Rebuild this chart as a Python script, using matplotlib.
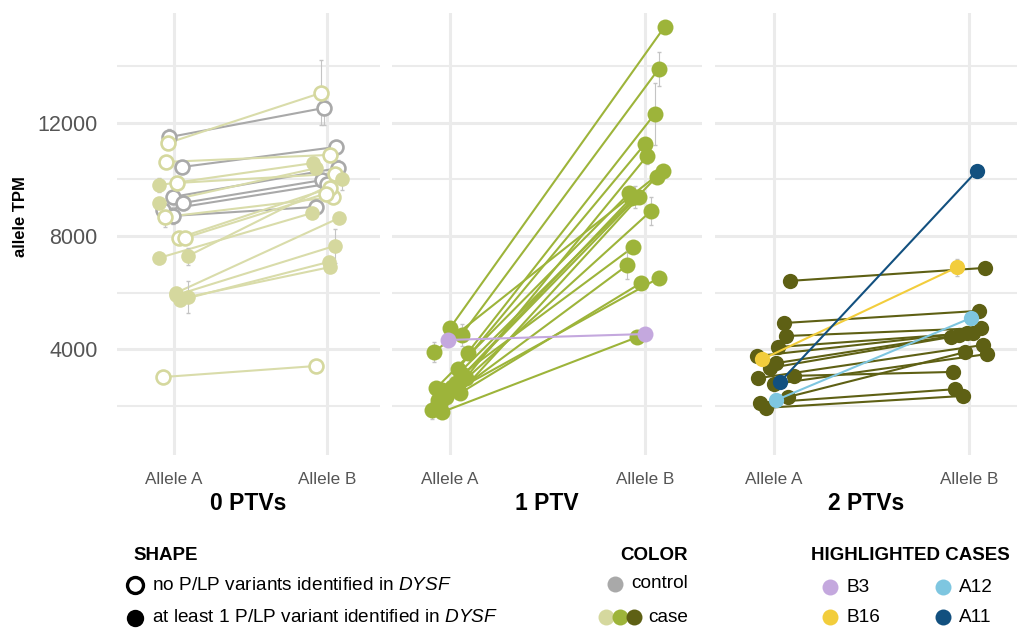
import matplotlib
matplotlib.use("Agg")
import matplotlib.pyplot as plt

plt.rcParams['font.family'] = ['Liberation Sans', 'DejaVu Sans']
plt.rcParams['mathtext.fontset'] = 'custom'
plt.rcParams['mathtext.rm'] = 'Liberation Sans'
plt.rcParams['mathtext.it'] = 'Liberation Sans:italic'

# colours
C_CTRL = '#a9a9a9'
C_LIGHT = '#d5d89e'
C_MID = '#9db43a'
C_DARK = '#5e6014'
C_B3 = '#c4a8de'
C_B16 = '#f2cd3c'
C_A12 = '#7ec6e0'
C_A11 = '#12507f'
COLORS = {'control': C_CTRL, 'light': C_LIGHT, 'mid': C_MID, 'dark': C_DARK,
          'B3': C_B3, 'B16': C_B16, 'A12': C_A12, 'A11': C_A11}
HIGHLIGHT = ('B3', 'B16', 'A12', 'A11')

panel_titles = ['0 PTVs', '1 PTV', '2 PTVs']
allele_labels = ['Allele A', 'Allele B']
y_ticks = [4000, 8000, 12000]

# ---- 0 PTVs ----
p0_group = ['control'] * 6 + ['light'] * 15
p0_filled = [0, 0, 0, 0, 0, 0,
             0, 0, 0, 0, 0, 0, 0,
             1, 1, 1, 1, 1, 1, 1, 1]
p0_a = [11500, 10440, 9380, 9170, 8920, 8710,
        11290, 10620, 9876, 8670, 7930, 7930, 3010,
        9800, 9170, 7220, 7290, 5980, 5730, 5840, 5900]
p0_b = [12530, 11150, 10400, 9980, 9840, 9030,
        13060, 10870, 10200, 9380, 9700, 9500, 3400,
        10580, 10400, 8810, 10020, 8640, 7080, 6900, 7650]
p0_ja = [-0.03, 0.05, -0.01, 0.06, -0.07, -0.01,
         -0.04, -0.05, 0.02, -0.06, 0.03, 0.07, -0.07,
         -0.10, -0.10, -0.10, 0.09, 0.01, 0.04, 0.09, 0.01]
p0_jb = [-0.02, 0.06, 0.07, -0.03, 0.00, -0.07,
         -0.04, 0.02, 0.05, 0.04, 0.02, -0.01, -0.07,
         -0.09, -0.07, -0.10, 0.10, 0.08, 0.01, 0.02, 0.05]
p0_ea = [300, 0, 0, 250, 0, 300, 0, 0, 0, 350, 0, 0, 0, 250, 0, 200, 300, 0, 0, 550, 0]
p0_eb = [600, 0, 300, 0, 0, 0, 1150, 0, 0, 0, 0, 0, 0, 0, 0, 0, 400, 0, 0, 0, 600]

# ---- 1 PTV ----
p1_group = ['mid'] * 17 + ['B3']
p1_filled = [1] * 18
p1_a = [4740, 4500, 3860, 3290, 2970, 3900, 2650, 2620, 2550, 2440,
        2800, 2300, 3100, 2050, 2190, 1840, 1770, 4320]
p1_b = [15400, 13910, 12320, 11260, 10830, 10300, 10090, 9520, 9380, 9380,
        9350, 8880, 7610, 6970, 6510, 6340, 4420, 4530]
p1_ja = [0.00, 0.06, 0.09, 0.04, 0.08, -0.08, 0.01, -0.07, -0.04, 0.05,
         0.03, -0.02, 0.06, -0.05, -0.06, -0.09, -0.04, -0.01]
p1_jb = [0.10, 0.07, 0.05, 0.00, 0.01, 0.09, 0.06, -0.08, -0.05, -0.03,
         -0.07, 0.03, -0.06, -0.09, 0.07, -0.02, -0.04, 0.00]
p1_ea = [0, 400, 0, 0, 0, 350, 0, 0, 0, 0, 0, 0, 0, 0, 0, 300, 0, 0]
p1_eb = [0, 600, 1100, 0, 300, 0, 0, 0, 400, 0, 0, 500, 0, 500, 0, 0, 0, 0]

# ---- 2 PTVs ----
p2_group = ['dark'] * 13 + ['B16', 'A12', 'A11']
p2_filled = [1] * 16
p2_a = [6410, 4920, 4460, 4070, 3750, 3500, 3330, 3050, 2970, 2760,
        2300, 2090, 1920, 3640, 2190, 2830]
p2_b = [6870, 5350, 4740, 4570, 4570, 4500, 4430, 3190, 4140, 3820,
        3890, 2580, 2340, 6900, 5100, 10300]
p2_ja = [0.08, 0.05, 0.06, 0.02, -0.09, 0.01, -0.02, 0.10, -0.08, 0.00,
         0.07, -0.07, -0.04, -0.06, 0.01, 0.03]
p2_jb = [0.08, 0.05, 0.06, 0.02, -0.01, -0.05, -0.09, -0.08, 0.07, 0.09,
         -0.02, -0.07, -0.03, -0.06, 0.01, 0.04]
p2_ea = [0] * 13 + [200, 0, 0]
p2_eb = [0] * 13 + [300, 0, 0]

panels = [
    (p0_group, p0_filled, p0_a, p0_b, p0_ja, p0_jb, p0_ea, p0_eb),
    (p1_group, p1_filled, p1_a, p1_b, p1_ja, p1_jb, p1_ea, p1_eb),
    (p2_group, p2_filled, p2_a, p2_b, p2_ja, p2_jb, p2_ea, p2_eb),
]

W, H = 1017, 629
fig = plt.figure(figsize=(W / 100, H / 100), dpi=100)


def px(x, y):
    return x / W, 1 - y / H


# axes boxes in pixels: left, right, xlim, marker size
boxes = [(117, 380, (0.627, 2.346), 10.5),
         (392, 702, (0.703, 2.292), 11.5),
         (715, 1017, (0.697, 2.246), 11)]
top, bottom = 13, 455
grid_c = '#ebebeb'

for i, (box, data) in enumerate(zip(boxes, panels)):
    left, right, xlim, ms = box
    ax = fig.add_axes([left / W, 1 - bottom / H, (right - left) / W, (bottom - top) / H])
    group, filled, a, b, ja, jb, ea, eb = data
    ax.set_xlim(*xlim)
    ax.set_ylim(250, 15890)
    for s in ax.spines.values():
        s.set_visible(False)
    for y in [4000, 8000, 12000]:
        ax.axhline(y, color=grid_c, lw=2.2, zorder=0)
    for y in [2000, 6000, 10000, 14000]:
        ax.axhline(y, color=grid_c, lw=1.5, zorder=0)
    for x in [1, 2]:
        ax.axvline(x, color=grid_c, lw=2.2, zorder=0)

    # non-highlighted first, highlights on top
    order = sorted(range(len(a)), key=lambda k: group[k] in HIGHLIGHT)
    for k in order:
        c = COLORS[group[k]]
        xa, xb = 1 + ja[k], 2 + jb[k]
        z = 3 if group[k] in HIGHLIGHT else 2
        line_c = '#d9dcaa' if group[k] == 'light' else c
        ax.plot([xa, xb], [a[k], b[k]], color=line_c, lw=1.5, zorder=z)
        if ea[k]:
            ax.errorbar(xa, a[k], yerr=ea[k], color='#c4c4c4', lw=0.8, capsize=1.5, zorder=z)
        if eb[k]:
            ax.errorbar(xb, b[k], yerr=eb[k], color='#c4c4c4', lw=0.8, capsize=1.5, zorder=z)
        if filled[k]:
            ax.plot([xa, xb], [a[k], b[k]], 'o', ms=ms, color=c, mew=0, zorder=z + 0.5, ls='none')
        else:
            ax.plot([xa, xb], [a[k], b[k]], 'o', ms=ms - 0.5, mfc='white', mec=c, mew=1.9,
                    zorder=z + 0.5, ls='none')

    ax.set_xticks([1, 2])
    ax.set_xticklabels(allele_labels, fontsize=12.3, color='#555555')
    ax.tick_params(axis='both', length=0, pad=12)
    if i == 0:
        ax.set_yticks(y_ticks)
        ax.set_yticklabels([str(v) for v in y_ticks], fontsize=15.5, color='#555555')
        ax.tick_params(axis='y', pad=14)
    else:
        ax.set_yticks([])
    ax.set_xlabel(panel_titles[i], fontsize=16.5, fontweight='bold', labelpad=4)

fig.text(*px(21, 217), 'allele TPM', rotation=90, fontsize=12, fontweight='bold',
         ha='center', va='center')

# ---- legend ----
hdr = dict(fontsize=13.5, fontweight='bold', va='center')
txt = dict(fontsize=13.7, va='center')
fig.text(*px(133, 555), 'SHAPE', ha='left', **hdr)
fig.text(*px(688, 555), 'COLOR', ha='right', **hdr)
fig.text(*px(1010, 555), 'HIGHLIGHTED CASES', ha='right', **hdr)

lax = fig.add_axes([0, 0, 1, 1], facecolor='none')
lax.set_xlim(0, W)
lax.set_ylim(H, 0)
lax.axis('off')
lax.plot([135], [585], 'o', ms=11.5, mfc='white', mec='black', mew=2.4)
lax.plot([135], [618], 'o', ms=12.5, color='black', mew=0)
fig.text(*px(152, 585), r'no P/LP variants identified in $\it{DYSF}$', ha='left', **txt)
fig.text(*px(152, 618), r'at least 1 P/LP variant identified in $\it{DYSF}$', ha='left', **txt)

lax.plot([615], [584], 'o', ms=11.5, color=C_CTRL, mew=0)
fig.text(*px(688, 584), 'control', ha='right', **txt)
for x, c in zip([606, 620, 634], [C_LIGHT, C_MID, C_DARK]):
    lax.plot([x], [617], 'o', ms=11.5, color=c, mew=0)
fig.text(*px(688, 617), 'case', ha='right', **txt)

for (x, y, c, lab) in [(830, 587, C_B3, 'B3'), (943, 587, C_A12, 'A12'),
                       (830, 617, C_B16, 'B16'), (943, 617, C_A11, 'A11')]:
    lax.plot([x], [y], 'o', ms=11.5, color=c, mew=0)
    fig.text(*px(x + 16, y), lab, ha='left', **txt)

fig.savefig('out.png', dpi=100, facecolor='white')
